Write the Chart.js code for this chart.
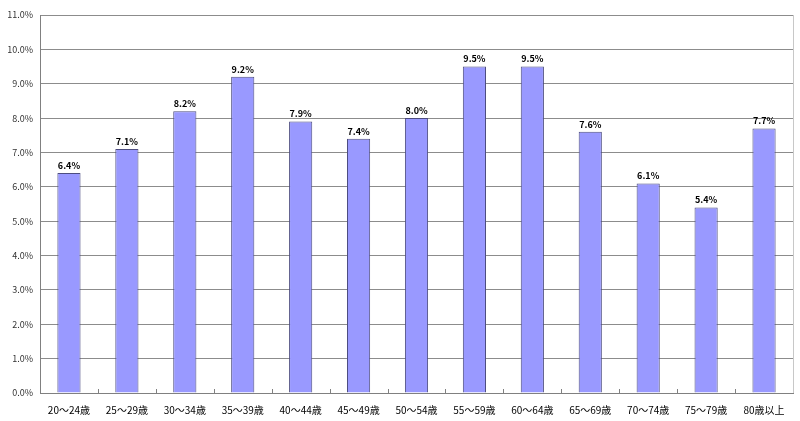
<!DOCTYPE html>
<html>
<head>
<meta charset="utf-8">
<script src="https://cdn.jsdelivr.net/npm/chart.js@4"></script>
<style>
  html, body { margin: 0; padding: 0; background: #fff; }
  #wrap { width: 800px; height: 421px; }
</style>
</head>
<body>
<div id="wrap"><canvas id="ageChart"></canvas></div>
<script>
const ageGroups = ['20～24歳', '25～29歳', '30～34歳', '35～39歳', '40～44歳', '45～49歳', '50～54歳',
  '55～59歳', '60～64歳', '65～69歳', '70～74歳', '75～79歳', '80歳以上'];
const shares = [6.4, 7.1, 8.2, 9.2, 7.9, 7.4, 8.0, 9.5, 9.5, 7.6, 6.1, 5.4, 7.7];
const yMin = 0;
const yMax = 11;
const yStep = 1;

const FONT = '"Noto Sans CJK JP", "DejaVu Sans", sans-serif';

// 棒の上に値を描く + 枠線と内向きの目盛り
const decorPlugin = {
  id: 'decor',
  beforeDatasetsDraw(chart) {
    const { ctx, chartArea, scales } = chart;
    ctx.save();
    ctx.strokeStyle = '#c8c8c8';
    ctx.lineWidth = 1;
    ctx.beginPath();
    ctx.moveTo(chartArea.right + 0.5, chartArea.top);
    ctx.lineTo(chartArea.right + 0.5, chartArea.bottom);
    ctx.stroke();

    ctx.strokeStyle = '#808080';
    ctx.beginPath();
    for (let i = 1; i < ageGroups.length; i++) {
      const x = Math.round(scales.x.getPixelForValue(i - 0.5)) + 0.5;
      ctx.moveTo(x, chartArea.bottom);
      ctx.lineTo(x, chartArea.bottom - 4);
    }
    ctx.stroke();
    ctx.restore();
  },
  afterDatasetsDraw(chart) {
    const { ctx } = chart;
    const meta = chart.getDatasetMeta(0);
    ctx.save();
    ctx.fillStyle = '#000';
    ctx.font = '600 9px ' + FONT;
    ctx.textAlign = 'center';
    ctx.textBaseline = 'bottom';
    meta.data.forEach((bar, i) => {
      ctx.fillText(shares[i].toFixed(1) + '%', bar.x, bar.y - 3);
    });
    ctx.restore();
  }
};

const ctx = document.getElementById('ageChart').getContext('2d');
new Chart(ctx, {
  type: 'bar',
  data: {
    labels: ageGroups,
    datasets: [{
      data: shares,
      backgroundColor: '#9999ff',
      borderColor: '#4d4d80',
      borderWidth: 1,
      borderSkipped: 'bottom',
      categoryPercentage: 1.0,
      barPercentage: 0.4,
    }],
  },
  options: {
    responsive: true,
    maintainAspectRatio: false,
    animation: false,
    layout: { padding: { top: 15, right: 7, left: 0, bottom: 0 } },
    plugins: {
      legend: { display: false },
      tooltip: { enabled: false },
    },
    scales: {
      x: {
        grid: { display: false },
        border: { display: true, color: '#808080' },
        ticks: {
          color: '#000',
          font: { family: FONT, size: 10 },
          maxRotation: 0,
          autoSkip: false,
          padding: 3,
        },
        afterFit(scale) { scale.height = 28; },
      },
      y: {
        min: yMin,
        max: yMax,
        grid: { color: '#8c8c8c', drawTicks: false },
        border: { display: true, color: '#808080' },
        ticks: {
          stepSize: yStep,
          color: '#333',
          font: { family: FONT, size: 9 },
          padding: 7,
          callback: v => v.toFixed(1) + '%',
        },
        afterFit(scale) { scale.width = 40; },
      },
    },
  },
  plugins: [decorPlugin],
});
</script>
</body>
</html>
